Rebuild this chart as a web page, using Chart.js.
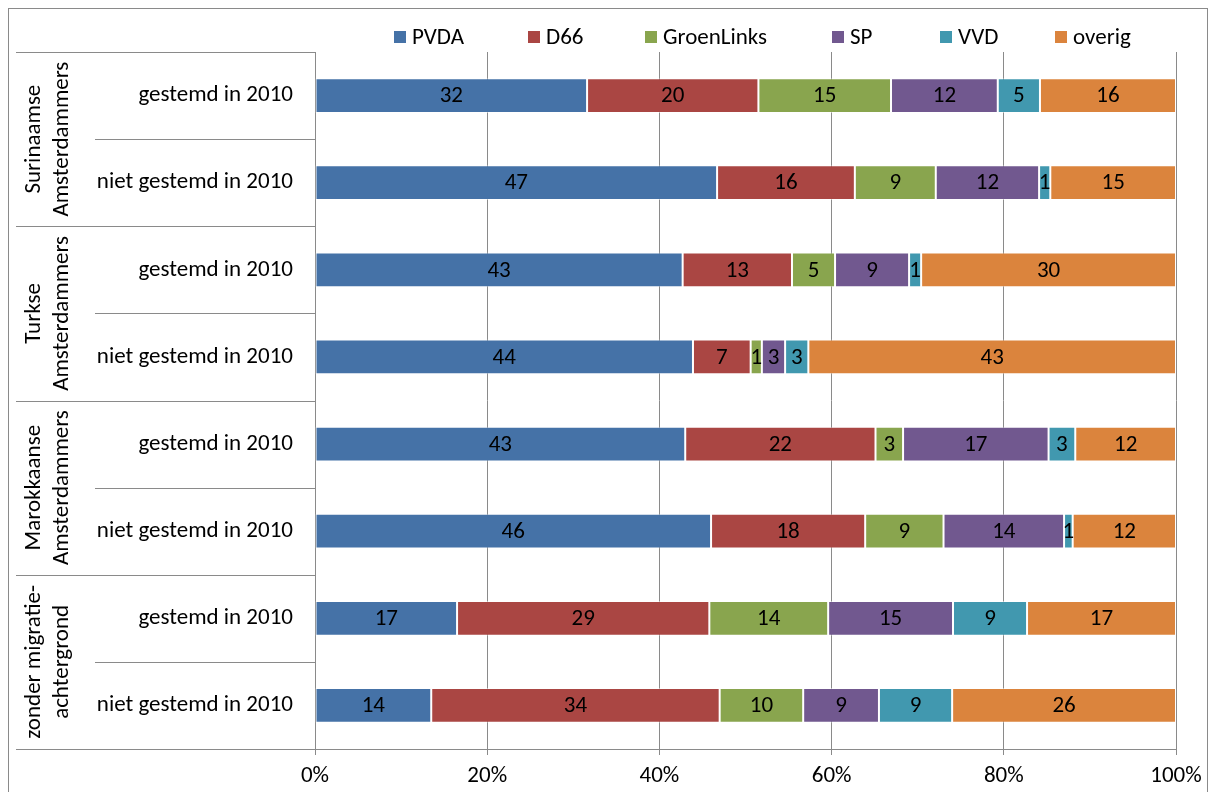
<!DOCTYPE html>
<html>
<head>
<meta charset="utf-8">
<script src="https://cdn.jsdelivr.net/npm/chart.js@4.4.0/dist/chart.umd.min.js"></script>
<style>
  html, body { margin: 0; padding: 0; background: #fff; }
  #wrap { width: 1211px; height: 792px; position: relative; }
</style>
</head>
<body>
<div id="wrap"><canvas id="chart" width="1211" height="792"></canvas></div>
<script>
// Data
const categories = [
    'gestemd in 2010', 'niet gestemd in 2010',
    'gestemd in 2010', 'niet gestemd in 2010',
    'gestemd in 2010', 'niet gestemd in 2010',
    'gestemd in 2010', 'niet gestemd in 2010'
];
const groups = [
    ['Surinaamse', 'Amsterdammers'],
    ['Turkse', 'Amsterdammers'],
    ['Marokkaanse', 'Amsterdammers'],
    ['zonder migratie-', 'achtergrond']
];
const parties = ['PVDA', 'D66', 'GroenLinks', 'SP', 'VVD', 'overig'];
const pvda       = [31.6, 46.7, 42.7, 43.9, 43.0, 46.0, 16.5, 13.5];
const d66        = [19.9, 16.0, 12.7,  6.7, 22.1, 17.9, 29.3, 33.5];
const groenlinks = [15.4,  9.4,  5.0,  1.3,  3.2,  9.1, 13.8,  9.7];
const sp         = [12.4, 12.0,  8.6,  2.7, 16.9, 14.0, 14.5,  8.8];
const vvd        = [ 4.9,  1.3,  1.4,  2.7,  3.1,  1.0,  8.6,  8.5];
const overig     = [15.8, 14.6, 29.6, 42.7, 11.7, 12.0, 17.3, 26.0];
const xTickLabels = ['0%', '20%', '40%', '60%', '80%', '100%'];

const colors = ['#4572A7', '#AA4643', '#89A54E', '#71588F', '#4198AF', '#DB843D'];
const FONT = 'Carlito, Calibri, Lato, sans-serif';
const FSIZE = 23;
const GRID = '#8a8a8a';

// Legend, data labels, group labels and frame
const decorPlugin = {
    id: 'decor',
    beforeDraw(chart) {
        const ctx = chart.ctx;
        ctx.save();
        ctx.fillStyle = '#fff';
        ctx.fillRect(0, 0, chart.width, chart.height);
        ctx.strokeStyle = GRID;
        ctx.lineWidth = 1;
        ctx.strokeRect(8.5, 8.5, 1199, 800);
        ctx.restore();
    },
    afterDatasetsDraw(chart) {
        const ctx = chart.ctx;
        ctx.save();
        ctx.font = FSIZE + 'px ' + FONT;
        ctx.fillStyle = '#000';
        ctx.textAlign = 'center';
        ctx.textBaseline = 'middle';
        chart.data.datasets.forEach((ds, i) => {
            chart.getDatasetMeta(i).data.forEach((bar, j) => {
                const cx = (bar.x + bar.base) / 2;
                ctx.fillText(Math.round(ds.data[j]), cx, bar.y + 1);
            });
        });
        ctx.restore();
    },
    afterDraw(chart) {
        const ctx = chart.ctx;
        const area = chart.chartArea;
        const y = chart.scales.y;
        const band = y.getPixelForValue(1) - y.getPixelForValue(0);

        ctx.save();
        // row separators / group separators
        ctx.strokeStyle = GRID;
        ctx.lineWidth = 1;
        for (let i = 0; i <= categories.length; i++) {
            const yy = Math.round(y.getPixelForValue(0) - band / 2 + i * band) + 0.5;
            const x0 = i % 2 === 0 ? 16 : 95;
            ctx.beginPath();
            ctx.moveTo(x0, yy);
            ctx.lineTo(area.left, yy);
            ctx.stroke();
        }

        // rotated group labels
        ctx.font = FSIZE + 'px ' + FONT;
        ctx.fillStyle = '#000';
        ctx.textAlign = 'center';
        ctx.textBaseline = 'middle';
        groups.forEach((lines, g) => {
            const yc = (y.getPixelForValue(g * 2) + y.getPixelForValue(g * 2 + 1)) / 2;
            ctx.save();
            ctx.translate(48, yc);
            ctx.rotate(-Math.PI / 2);
            ctx.fillText(lines[0], 0, -14);
            ctx.fillText(lines[1], 0, 14);
            ctx.restore();
        });

        // legend
        const legendX = [394, 528, 645, 832, 940, 1055];
        const legendY = 37;
        parties.forEach((name, i) => {
            ctx.fillStyle = colors[i];
            ctx.fillRect(legendX[i], legendY - 6, 12, 12);
            ctx.fillStyle = '#000';
            ctx.textAlign = 'left';
            ctx.fillText(name, legendX[i] + 18, legendY + 1);
        });
        ctx.restore();
    }
};

const seriesValues = [pvda, d66, groenlinks, sp, vvd, overig];

new Chart(document.getElementById('chart'), {
    type: 'bar',
    data: {
        labels: categories,
        datasets: parties.map((name, i) => ({
            label: name,
            data: seriesValues[i],
            backgroundColor: colors[i],
            borderColor: 'rgba(255,255,255,0.45)',
            borderWidth: 1,
            borderSkipped: false,
            barPercentage: 0.4,
            categoryPercentage: 1.0
        }))
    },
    options: {
        indexAxis: 'y',
        responsive: false,
        animation: false,
        layout: { padding: { top: 52, right: 35, left: 0, bottom: 0 } },
        plugins: {
            legend: { display: false },
            tooltip: { enabled: false }
        },
        scales: {
            x: {
                stacked: true,
                min: 0,
                max: 100,
                ticks: {
                    stepSize: 20,
                    color: '#000',
                    padding: 7,
                    font: { family: FONT, size: FSIZE },
                    callback: (v, i) => xTickLabels[i]
                },
                grid: { color: GRID, tickLength: 6, tickColor: GRID },
                border: { color: GRID },
                afterFit(scale) { scale.height = 43; }
            },
            y: {
                stacked: true,
                ticks: {
                    color: '#000',
                    padding: 22,
                    font: { family: FONT, size: FSIZE }
                },
                grid: { display: false, drawTicks: false },
                border: { display: true, color: GRID },
                afterFit(scale) { scale.width = 315; }
            }
        }
    },
    plugins: [decorPlugin]
});
</script>
</body>
</html>
